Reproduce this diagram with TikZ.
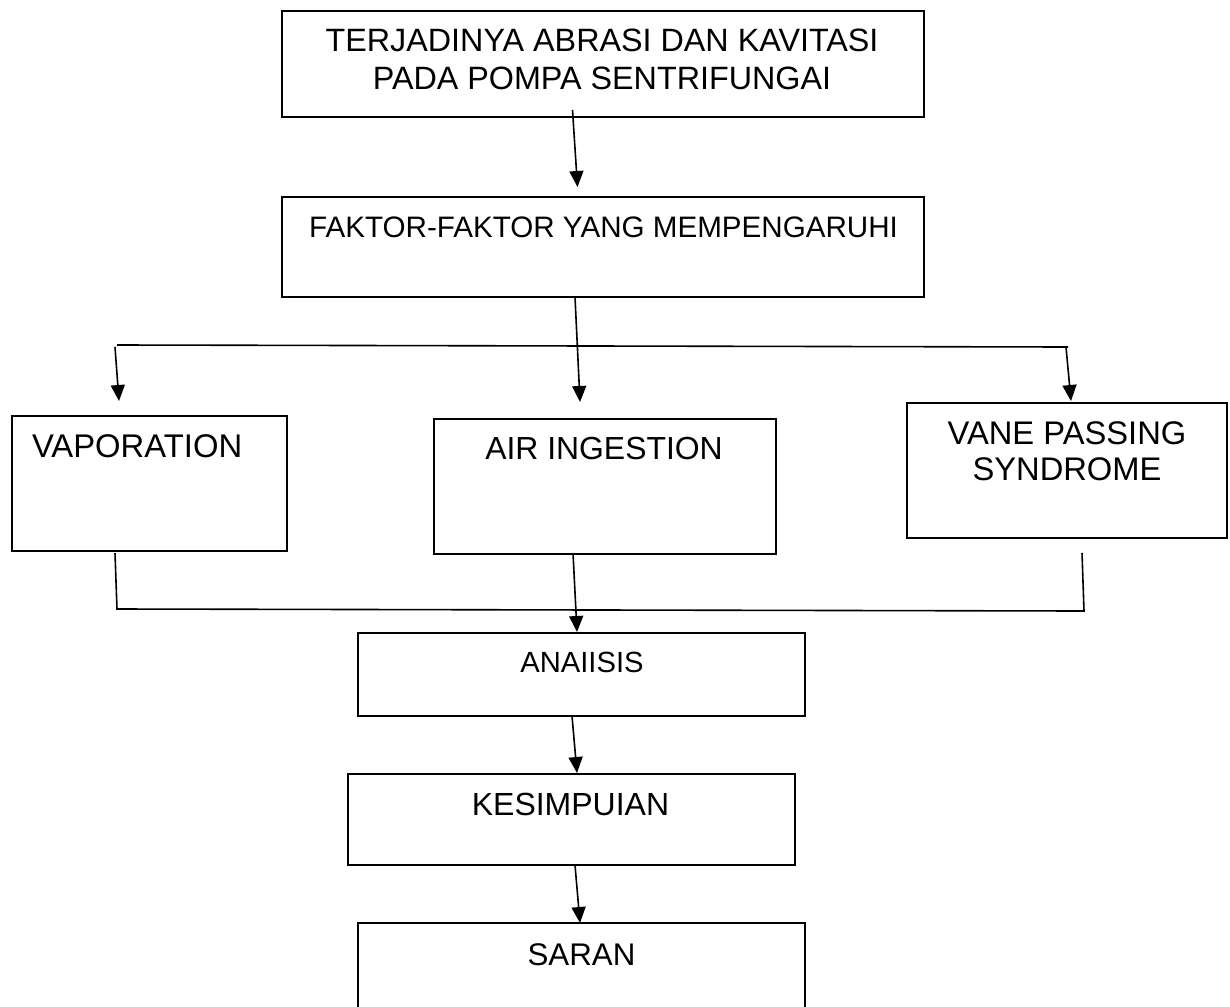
\documentclass[tikz,border=0pt]{standalone}
\usepackage{fontspec}
\setmainfont{Liberation Sans}
\usetikzlibrary{arrows.meta}
\begin{document}
\begin{tikzpicture}[x=1pt,y=-1pt,
  box/.style={draw=black, line width=1.8pt, rectangle, inner sep=0pt, outer sep=0pt, anchor=north west},
  txt/.style={inner sep=0pt, outer sep=0pt, anchor=base, font=\fontsize{31}{38}\selectfont},
  fs/.style={font=\fontsize{#1}{38}\selectfont},
  conn/.style={draw=black, line width=1.6pt},
  arr/.style={conn, -{Triangle[length=16pt,width=14pt]}}]
\clip (0,0) rectangle (1230,1006);
\fill[white] (0,0) rectangle (1230,1006);
% boxes
\node[box, minimum width=642pt, minimum height=106pt] (b1) at (282,11) {};
\node[box, minimum width=642pt, minimum height=100pt] (b2) at (282,197) {};
\node[box, minimum width=275pt, minimum height=135pt] (vap) at (12,416) {};
\node[box, minimum width=342pt, minimum height=135pt] (air) at (434,419) {};
\node[box, minimum width=320pt, minimum height=135pt] (vane) at (907,403) {};
\node[box, minimum width=447pt, minimum height=83pt] (ana) at (358,633) {};
\node[box, minimum width=447pt, minimum height=91pt] (kes) at (348,774) {};
\node[box, minimum width=447pt, minimum height=100pt] (sar) at (358,923) {};
% texts
\node[txt, fs=32.3] (t1a) at (602,52) {TERJADINYA ABRASI DAN KAVITASI};
\node[txt, fs=32.3] (t1b) at (602,90) {PADA POMPA SENTRIFUNGAI};
\node[txt, fs=29.6] (t2) at (603.5,237) {FAKTOR-FAKTOR YANG MEMPENGARUHI};
\node[txt, anchor=base west, fs=32.8] (t3) at (32,457) {VAPORATION};
\node[txt, fs=31.9] (t4) at (604,459) {AIR INGESTION};
\node[txt, fs=32.7] (t5a) at (1067,444) {VANE PASSING};
\node[txt, fs=32.7] (t5b) at (1067,480) {SYNDROME};
\node[txt, fs=29.2] (t6) at (582,672) {ANAIISIS};
\node[txt, fs=32] (t7) at (570.5,815) {KESIMPUIAN};
\node[txt, fs=31.3] (t8) at (581.5,965) {SARAN};
% connector coordinates
\coordinate (c1s) at (572.5,110); \coordinate (c1e) at (577.5,187);
\coordinate (c2s) at (575,297);   \coordinate (c2e) at (580,402);
\coordinate (hl) at (117,345);    \coordinate (hr) at (1068,347);
\coordinate (c3s) at (115,347);   \coordinate (c3e) at (119,401);
\coordinate (c4s) at (1066,347);  \coordinate (c4e) at (1071,401);
\coordinate (d1) at (115,553);    \coordinate (d2) at (117,609);
\coordinate (d3) at (1084,611);   \coordinate (d4) at (1082,553);
\coordinate (c5s) at (573,553);   \coordinate (c5e) at (577,632);
\coordinate (c6s) at (572,716);   \coordinate (c6e) at (577,773);
\coordinate (c7s) at (575,865);   \coordinate (c7e) at (580,923);
% connectors
\draw[arr] (c1s) -- (c1e);
\draw[conn] (hl) -- (hr);
\draw[arr] (c2s) -- (c2e);
\draw[arr] (c3s) -- (c3e);
\draw[arr] (c4s) -- (c4e);
\draw[conn] (d1) -- (d2) -- (d3) -- (d4);
\draw[arr] (c5s) -- (c5e);
\draw[arr] (c6s) -- (c6e);
\draw[arr] (c7s) -- (c7e);
\end{tikzpicture}
\end{document}
